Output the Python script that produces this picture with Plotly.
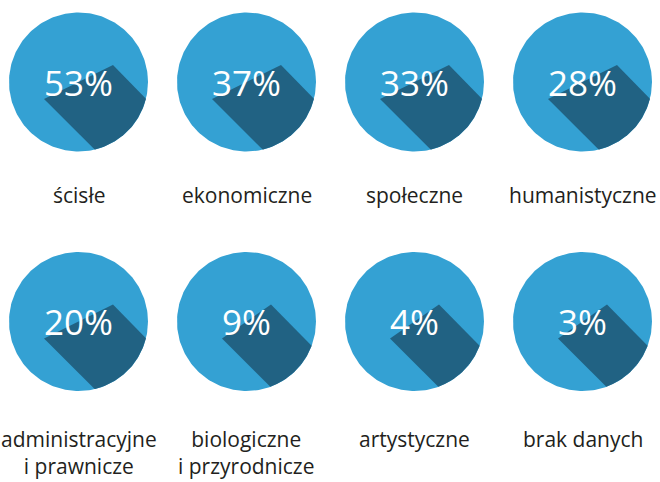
import numpy as np
import plotly.graph_objects as go

# ---- data ----
categories = ["ścisłe", "ekonomiczne", "społeczne", "humanistyczne",
              "administracyjne\ni prawnicze", "biologiczne\ni przyrodnicze",
              "artystyczne", "brak danych"]
values = [53, 37, 33, 28, 20, 9, 4, 3]

# ---- style / layout parameters ----
W, H = 660, 482
COL_X0, COL_DX = 78.5, 168
ROW_Y = [82, 321.5]
LABEL_TOP = [179, 423]
R = 69.5
CIRCLE_COLOR = "#34a1d3"
SHADOW_COLOR = "#216283"
LABEL_COLOR = "#231f20"
PCT_SIZE = 35
LABEL_SIZE = 21

fig = go.Figure()


def circle_xy(cx, cy, r, n=240):
    t = np.linspace(0, 2 * np.pi, n)
    return cx + r * np.cos(t), cy + r * np.sin(t)


def shadow_poly(cx, cy, r, w, h):
    # long 45° shadow from the text box, clipped to the circle (y axis points down)
    cu = -(w + h)
    cl = (w + h)

    def hit(c):
        x = (-c + np.sqrt(2 * r * r - c * c)) / 2
        return x, x + c
    xu, yu = hit(cu)
    xl, yl = hit(cl)
    au, al = np.arctan2(yu, xu), np.arctan2(yl, xl)
    t = np.linspace(au, al, 120)
    xs = [w] + list(r * np.cos(t)) + [-w, w]
    ys = [-h] + list(r * np.sin(t)) + [h, -h]
    return [cx + v for v in xs], [cy + v for v in ys]


annotations = []
for i, (cat, val) in enumerate(zip(categories, values)):
    col, row = i % 4, i // 4
    cx = COL_X0 + COL_DX * col
    cy = ROW_Y[row]
    xs, ys = circle_xy(cx, cy, R)
    fig.add_trace(go.Scatter(x=xs, y=ys, fill="toself", fillcolor=CIRCLE_COLOR,
                             mode="lines", line=dict(width=0, color=CIRCLE_COLOR),
                             hoverinfo="skip", showlegend=False))
    txt = f"{val}%"
    ndig = len(str(val))
    w = PCT_SIZE * (0.57 * ndig + 0.83) / 2
    h = 17
    sx, sy = shadow_poly(cx, cy, R, w, h)
    fig.add_trace(go.Scatter(x=sx, y=sy, fill="toself", fillcolor=SHADOW_COLOR,
                             mode="lines", line=dict(width=0, color=SHADOW_COLOR),
                             hoverinfo="skip", showlegend=False))
    annotations.append(dict(x=cx, y=cy, text=txt, showarrow=False,
                            xanchor="center", yanchor="middle",
                            font=dict(family="Open Sans", size=PCT_SIZE, color="white")))
    annotations.append(dict(x=cx, y=LABEL_TOP[row], text=cat.replace("\n", "<br>"),
                            showarrow=False, xanchor="center", yanchor="top",
                            align="center",
                            font=dict(family="Open Sans", size=LABEL_SIZE, color=LABEL_COLOR)))

fig.update_layout(
    width=W, height=H,
    margin=dict(l=0, r=0, t=0, b=0),
    paper_bgcolor="white", plot_bgcolor="white",
    xaxis=dict(range=[0, W], visible=False, fixedrange=True),
    yaxis=dict(range=[H, 0], visible=False, fixedrange=True),
    annotations=annotations,
    showlegend=False,
)

fig.write_html("out.html", config={"displayModeBar": False},
               post_script="document.body.style.margin='0';")
